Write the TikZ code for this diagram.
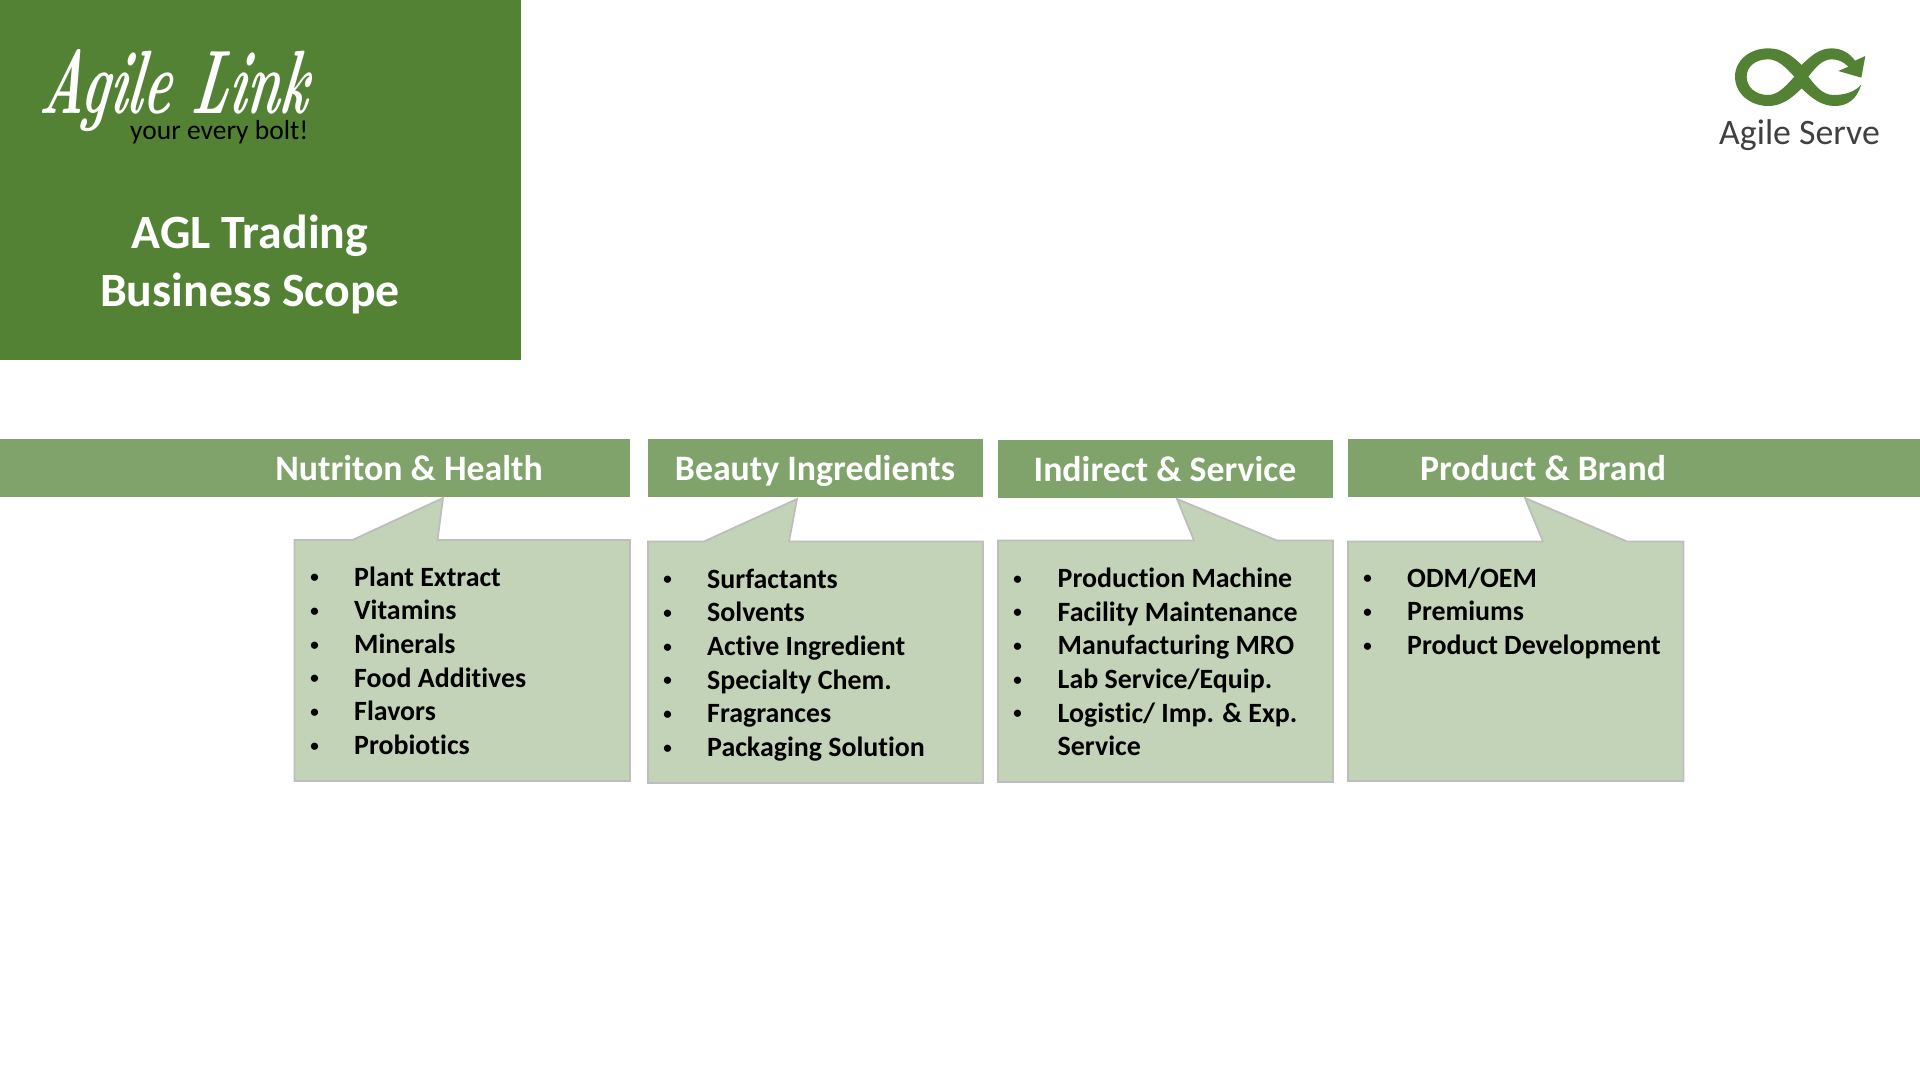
\documentclass[tikz,border=0pt]{standalone}
\usepackage{fontspec}
\setmainfont[Ligatures=NoCommon]{Carlito}
\definecolor{darkgreen}{HTML}{548235}
\definecolor{bargreen}{HTML}{7FA36B}
\definecolor{boxgreen}{HTML}{C3D3B7}
\definecolor{boxline}{HTML}{BDBDBD}
\definecolor{logotext}{HTML}{404040}
\newcommand{\itemfont}{\fontsize{27.9}{32}\selectfont\bfseries}
\tikzset{
  barbox/.style={fill=bargreen,draw=none},
  callout/.style={fill=boxgreen,draw=boxline,line width=1.8pt,line join=miter},
  bartext/.style={anchor=base,text=white,font=\fontsize{35.8}{40}\selectfont\bfseries,inner sep=0pt},
  titletext/.style={anchor=base,text=white,inner sep=0pt,font=\fontsize{47.8}{54}\selectfont\bfseries},
  itemtext/.style={anchor=base west,text=black,font=\itemfont,inner sep=0pt},
  itemdot/.style={anchor=base,text=black,font=\fontsize{17}{20}\selectfont\bfseries,inner sep=0pt,yshift=3.4pt},
}
\begin{document}
\begin{tikzpicture}[x=1pt,y=-1pt]
\useasboundingbox (0,0) rectangle (1920,1080);
% title block
\fill[darkgreen] (0,0) rectangle (521,360);
\node[anchor=base west,text=white,inner sep=0pt,xscale=0.575,xslant=0.25,font=\fontsize{90}{96}\selectfont\fontspec{Latin Modern Roman}\bfseries\itshape] (scriptname) at (38,113) {Agile Link};
\node[anchor=base west,text=black,inner sep=0pt,font=\fontsize{27.5}{32}\selectfont] (motto) at (130,139) {your every bolt!};
\node[titletext] (title1) at (250,248) {AGL Trading};
\node[titletext] (title2) at (250,306) {Business Scope};
% logo
\begin{scope}[shift={(1680,20)},x=0.3333pt,y=-0.3333pt]
\fill[darkgreen,even odd rule] (543,195) .. controls (530,240) and (500,258) .. (465,258)
  .. controls (425,258) and (395,235) .. (365,205)
  .. controls (335,235) and (305,258) .. (265,258)
  .. controls (210,258) and (165,220) .. (165,170)
  .. controls (165,120) and (210,85) .. (265,85)
  .. controls (305,85) and (335,105) .. (365,135)
  .. controls (395,105) and (420,85) .. (455,85)
  .. controls (485,85) and (510,100) .. (525,122)
  -- (556,108) -- (544,173) -- (475,153) -- (505,140)
  .. controls (490,125) and (475,118) .. (455,118)
  .. controls (425,118) and (405,145) .. (385,170)
  .. controls (405,195) and (425,225) .. (462,225)
  .. controls (495,225) and (525,215) .. (543,195) -- cycle
  (265,118) .. controls (225,118) and (200,140) .. (200,170)
  .. controls (200,200) and (225,225) .. (265,225)
  .. controls (295,225) and (320,195) .. (343,170)
  .. controls (320,145) and (295,118) .. (265,118) -- cycle;
\end{scope}
\node[anchor=base,text=logotext,inner sep=0pt,font=\fontsize{35.8}{40}\selectfont] (logoname) at (1799.5,144) {Agile Serve};
% header bars
\fill[barbox] (0,439) rectangle (630,497);
\fill[barbox] (648,439) rectangle (983,497);
\fill[barbox] (998,440) rectangle (1333,498);
\fill[barbox] (1348,439) rectangle (1920,497);
\node[bartext] (nutrition) at (409,480) {Nutriton \& Health};
\node[bartext] (beauty) at (815,480) {Beauty Ingredients};
\node[bartext] (indirect) at (1165,481) {Indirect \& Service};
\node[bartext] (product) at (1543,480) {Product \& Brand};
% callouts
\draw[callout] (294.5,540) -- (352.5,540) -- (443,498) -- (437.5,540) -- (630,540) -- (630,781) -- (294.5,781) -- cycle;
\draw[callout] (648,541.5) -- (704,541.5) -- (797,499) -- (789,541.5) -- (983,541.5) -- (983,783) -- (648,783) -- cycle;
\draw[callout] (998,540.5) -- (1194,540.5) -- (1177,499) -- (1277,540.5) -- (1333,540.5) -- (1333,782) -- (998,782) -- cycle;
\draw[callout] (1348,541.5) -- (1543,541.5) -- (1525,498) -- (1627,541.5) -- (1683.5,541.5) -- (1683.5,781) -- (1348,781) -- cycle;
% lists
\foreach \itemname [count=\i] in {Plant Extract,Vitamins,Minerals,Food Additives,Flavors,Probiotics}{
  \node[itemdot] (ad\i) at (314.5,586+33.7*\i-33.7) {•};
  \node[itemtext] (a\i) at (354,586+33.7*\i-33.7) {\itemname};
}
\foreach \itemname [count=\i] in {Surfactants,Solvents,Active Ingredient,Specialty Chem.,Fragrances,Packaging Solution}{
  \node[itemdot] (bd\i) at (667.5,588+33.7*\i-33.7) {•};
  \node[itemtext] (b\i) at (707,588+33.7*\i-33.7) {\itemname};
}
\foreach \itemname [count=\i] in {Production Machine,Facility Maintenance,Manufacturing MRO,Lab Service/Equip.,Logistic/ Imp. \& Exp.}{
  \node[itemdot] (cd\i) at (1017.5,587.5+33.7*\i-33.7) {•};
  \node[itemtext] (c\i) at (1057.5,587.5+33.7*\i-33.7) {\itemname};
}
\node[itemtext] (c6) at (1057.5,755.5) {Service};
\foreach \itemname [count=\i] in {ODM/OEM,Premiums,Product Development}{
  \node[itemdot] (dd\i) at (1367.5,587+33.7*\i-33.7) {•};
  \node[itemtext] (d\i) at (1407,587+33.7*\i-33.7) {\itemname};
}
\end{tikzpicture}
\end{document}
